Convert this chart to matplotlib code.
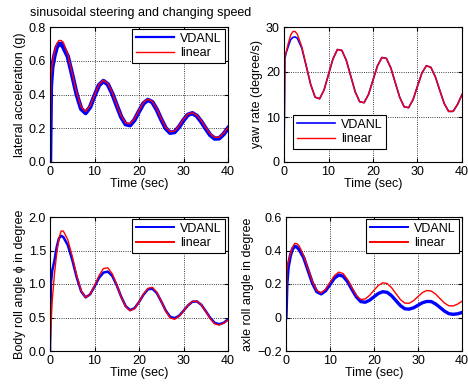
import matplotlib
matplotlib.use('Agg')
import matplotlib.pyplot as plt

plt.rcParams['font.family'] = ['Liberation Sans', 'DejaVu Sans']
plt.rcParams['font.size'] = 9

# time samples (sec)
t = [0, 0.2, 0.5, 1, 1.5, 2, 2.5] + list(range(3, 41))

# lateral acceleration (g)
lat_vdanl = [0, 0.45, 0.56, 0.63, 0.68, 0.70, 0.70,
             0.68, 0.625, 0.515, 0.40, 0.315, 0.29, 0.325, 0.392, 0.455, 0.48,
             0.46, 0.405, 0.335, 0.267, 0.224, 0.218, 0.25, 0.30, 0.347, 0.368,
             0.355, 0.31, 0.252, 0.20, 0.173, 0.178, 0.208, 0.248, 0.28, 0.289,
             0.273, 0.239, 0.198, 0.16, 0.139, 0.14, 0.165, 0.20]
lat_linear = [0, 0.50, 0.58, 0.65, 0.70, 0.72, 0.72,
              0.709, 0.637, 0.524, 0.41, 0.326, 0.30, 0.331, 0.396, 0.459, 0.485,
              0.465, 0.411, 0.34, 0.273, 0.231, 0.227, 0.257, 0.306, 0.352, 0.373,
              0.359, 0.315, 0.257, 0.206, 0.179, 0.184, 0.213, 0.253, 0.284, 0.292,
              0.277, 0.244, 0.204, 0.167, 0.146, 0.146, 0.17, 0.204]

# yaw rate (degree/s)
yaw_vdanl = [0, 23.0, 24.3, 25.8, 27.2, 27.7, 27.8,
             27.5, 25.3, 21.3, 17.2, 14.4, 14.05, 16.0, 19.45, 22.9, 25.0,
             24.8, 22.6, 19.1, 15.6, 13.4, 13.18, 15.03, 18.2, 21.37, 23.22,
             23.03, 20.92, 17.65, 14.38, 12.27, 12.07, 13.85, 16.87, 19.8, 21.4,
             21.04, 18.96, 15.94, 13.01, 11.24, 11.25, 12.8, 15.0]
yaw_linear = [0, 23.5, 24.5, 26.5, 28.2, 29.0, 29.0,
              28.4, 25.6, 21.4, 17.2, 14.4, 14.05, 16.0, 19.45, 22.9, 25.0,
              24.8, 22.6, 19.1, 15.6, 13.4, 13.18, 15.03, 18.2, 21.37, 23.22,
              23.03, 20.92, 17.65, 14.38, 12.27, 12.07, 13.85, 16.87, 19.8, 21.4,
              21.04, 18.96, 15.94, 13.01, 11.24, 11.25, 12.8, 15.0]

# body roll angle (degree)
roll_vdanl = [0, 1.0, 1.2, 1.35, 1.55, 1.68, 1.72,
              1.70, 1.58, 1.36, 1.10, 0.89, 0.80, 0.845, 0.96, 1.09, 1.17,
              1.185, 1.12, 0.98, 0.81, 0.67, 0.61, 0.64, 0.73, 0.84, 0.92,
              0.93, 0.865, 0.74, 0.605, 0.51, 0.49, 0.525, 0.60, 0.68, 0.735,
              0.74, 0.69, 0.595, 0.495, 0.42, 0.40, 0.42, 0.47]
roll_linear = [0, 0.35, 0.75, 1.15, 1.45, 1.68, 1.79,
               1.79, 1.66, 1.415, 1.13, 0.90, 0.80, 0.843, 0.971, 1.124, 1.23,
               1.242, 1.151, 0.99, 0.807, 0.662, 0.601, 0.632, 0.73, 0.848, 0.935,
               0.951, 0.878, 0.743, 0.596, 0.493, 0.473, 0.516, 0.596, 0.683, 0.74,
               0.745, 0.689, 0.589, 0.483, 0.406, 0.387, 0.415, 0.46]

# axle roll angle (degree)
axle_vdanl = [0, 0.20, 0.30, 0.37, 0.41, 0.425, 0.42,
              0.405, 0.359, 0.2825, 0.206, 0.154, 0.141, 0.16, 0.1975, 0.235, 0.254,
              0.246, 0.214, 0.167, 0.123, 0.095, 0.091, 0.103, 0.124, 0.1435, 0.154,
              0.15, 0.13, 0.1005, 0.071, 0.052, 0.05, 0.058, 0.073, 0.088, 0.096,
              0.095, 0.081, 0.06, 0.0385, 0.023, 0.019, 0.022, 0.03]
axle_linear = [0, 0.28, 0.33, 0.38, 0.42, 0.443, 0.44,
               0.427, 0.37, 0.291, 0.214, 0.16, 0.147, 0.168, 0.209, 0.25, 0.271,
               0.262, 0.226, 0.176, 0.131, 0.107, 0.111, 0.132, 0.163, 0.192, 0.207,
               0.2025, 0.178, 0.142, 0.107, 0.086, 0.085, 0.1005, 0.125, 0.1486, 0.161,
               0.158, 0.14, 0.113, 0.087, 0.07, 0.069, 0.08, 0.097]

fig = plt.figure(figsize=(4.68, 3.9), dpi=100)

panels = [
    # rect, vdanl, linear, ylim, yticks, ylabel, legend loc, vdanl lw, legend lw
    ([50/468, 228/390, 178/468, 135/390], lat_vdanl, lat_linear, (0, 0.8),
     [0, 0.2, 0.4, 0.6, 0.8], 'lateral acceleration (g)', 'tr', 3.2, (1.6, 1.0)),
    ([284/468, 228/390, 178/468, 135/390], yaw_vdanl, yaw_linear, (0, 30),
     [0, 10, 20, 30], 'yaw rate (degree/s)', 'bl', 1.2, (1.2, 1.0)),
    ([50/468, 39/390, 178/468, 134/390], roll_vdanl, roll_linear, (0, 2),
     [0, 0.5, 1, 1.5, 2], 'Body roll angle \u03d5 in degree', 'tr', 1.8, (1.4, 1.4)),
    ([286/468, 39/390, 176/468, 134/390], axle_vdanl, axle_linear, (-0.2, 0.6),
     [-0.2, 0, 0.2, 0.4, 0.6], 'axle roll angle in degree', 'tr', 2.4, (1.4, 1.4)),
]

for rect, yv, yl, ylim, yticks, ylabel, loc, lw, leg_lw in panels:
    ax = fig.add_axes(rect)
    ax.plot(t, yv, color='blue', linewidth=lw, label='VDANL')
    ax.plot(t, yl, color='red', linewidth=1.0, label='linear')
    ax.set_xlim(0, 40)
    ax.set_ylim(*ylim)
    ax.set_xticks([0, 10, 20, 30, 40])
    ax.set_yticks(yticks)
    if ylim[0] < 0:
        ax.set_yticklabels(['\u22120.2', '0', '0.2', '0.4', '0.6'])
    ax.grid(True, color='black', linestyle=':', linewidth=0.6)
    ax.tick_params(direction='in', top=True, right=True, length=3, labelsize=9, pad=3)
    for s in ax.spines.values():
        s.set_linewidth(0.8)
    ax.set_xlabel('Time (sec)', labelpad=0)
    ax.set_ylabel(ylabel, labelpad=2)
    if loc == 'tr':
        leg = ax.legend(loc='upper right', bbox_to_anchor=(0.985, 0.985),
                        handlelength=3.0, fancybox=False, framealpha=1,
                        borderaxespad=0, borderpad=0.3, labelspacing=0.2,
                        handletextpad=0.5)
    else:
        leg = ax.legend(loc='lower left', bbox_to_anchor=(0.053, 0.098),
                        handlelength=3.0, fancybox=False, framealpha=1,
                        borderaxespad=0, borderpad=0.3, labelspacing=0.2,
                        handletextpad=0.5)
    leg.get_frame().set_edgecolor('black')
    leg.get_frame().set_linewidth(0.8)
    for h, w in zip(leg.get_lines(), leg_lw):
        h.set_linewidth(w)

fig.text(30/468, 1 - 13/390, 'sinusoidal steering and changing speed',
         ha='left', va='center', fontsize=9)

fig.savefig('out.png', dpi=100)
